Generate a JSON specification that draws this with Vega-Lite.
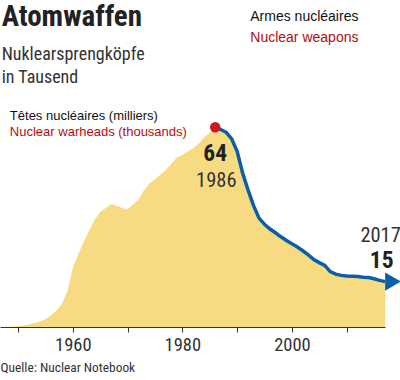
{
  "$schema": "https://vega.github.io/schema/vega-lite/v6.json",
  "width": 385,
  "height": 327,
  "autosize": {"type": "none"},
  "padding": {"left": 0, "top": 0, "right": 15, "bottom": 53},
  "config": {
    "view": {"stroke": null},
    "text": {"font": "Liberation Sans"}
  },
  "datasets": {
    "warheads": [
      {"year": 1945, "thousands": 0.0},
      {"year": 1946, "thousands": 0.01},
      {"year": 1947, "thousands": 0.02},
      {"year": 1948, "thousands": 0.05},
      {"year": 1949, "thousands": 0.17},
      {"year": 1950, "thousands": 0.3},
      {"year": 1951, "thousands": 0.45},
      {"year": 1952, "thousands": 0.8},
      {"year": 1953, "thousands": 1.3},
      {"year": 1954, "thousands": 1.8},
      {"year": 1955, "thousands": 2.5},
      {"year": 1956, "thousands": 3.8},
      {"year": 1957, "thousands": 5.2},
      {"year": 1958, "thousands": 7.5},
      {"year": 1959, "thousands": 11.5},
      {"year": 1960, "thousands": 19},
      {"year": 1961, "thousands": 23.5},
      {"year": 1962, "thousands": 27.5},
      {"year": 1963, "thousands": 31},
      {"year": 1964, "thousands": 34.5},
      {"year": 1965, "thousands": 37},
      {"year": 1966, "thousands": 38.3},
      {"year": 1967, "thousands": 39.5},
      {"year": 1968, "thousands": 39.0},
      {"year": 1969, "thousands": 38.3},
      {"year": 1970, "thousands": 37.8},
      {"year": 1971, "thousands": 39.5},
      {"year": 1972, "thousands": 41},
      {"year": 1973, "thousands": 44},
      {"year": 1974, "thousands": 46.2},
      {"year": 1975, "thousands": 47.5},
      {"year": 1976, "thousands": 49},
      {"year": 1977, "thousands": 50.5},
      {"year": 1978, "thousands": 52.5},
      {"year": 1979, "thousands": 54.5},
      {"year": 1980, "thousands": 55.3},
      {"year": 1981, "thousands": 56.5},
      {"year": 1982, "thousands": 57.5},
      {"year": 1983, "thousands": 59},
      {"year": 1984, "thousands": 61},
      {"year": 1985, "thousands": 62.5},
      {"year": 1986, "thousands": 64.2},
      {"year": 1987, "thousands": 63.5},
      {"year": 1988, "thousands": 62.6},
      {"year": 1989, "thousands": 60.5},
      {"year": 1990, "thousands": 56.5},
      {"year": 1991, "thousands": 49.5},
      {"year": 1992, "thousands": 44},
      {"year": 1993, "thousands": 39},
      {"year": 1994, "thousands": 35},
      {"year": 1995, "thousands": 33},
      {"year": 1996, "thousands": 31.5},
      {"year": 1997, "thousands": 30.3},
      {"year": 1998, "thousands": 29},
      {"year": 1999, "thousands": 27.8},
      {"year": 2000, "thousands": 26.8},
      {"year": 2001, "thousands": 25.7},
      {"year": 2002, "thousands": 24.5},
      {"year": 2003, "thousands": 23.2},
      {"year": 2004, "thousands": 21.7},
      {"year": 2005, "thousands": 20.7},
      {"year": 2006, "thousands": 19.8},
      {"year": 2007, "thousands": 17.8},
      {"year": 2008, "thousands": 17},
      {"year": 2009, "thousands": 16.6},
      {"year": 2010, "thousands": 16.4},
      {"year": 2011, "thousands": 16.3},
      {"year": 2012, "thousands": 16.2},
      {"year": 2013, "thousands": 16},
      {"year": 2014, "thousands": 15.9},
      {"year": 2015, "thousands": 15.5},
      {"year": 2016, "thousands": 15},
      {"year": 2017, "thousands": 14.6}
    ]
  },
  "layer": [
    {
      "data": {"name": "warheads"},
      "mark": {"type": "area", "color": "#f6db83"},
      "encoding": {
        "x": {
          "field": "year",
          "type": "quantitative",
          "scale": {"domain": [1946.7, 2017], "nice": false, "zero": false},
          "axis": {
            "values": [1950, 1960, 1970, 1980, 1990, 2000, 2010],
            "format": "d",
            "labelExpr": "datum.value % 20 == 0 ? datum.label : ''",
            "grid": false,
            "domainColor": "#333333",
            "tickColor": "#333333",
            "tickSize": 5,
            "labelPadding": 3,
            "labelFont": "Roboto Condensed, Liberation Sans Narrow, DejaVu Sans Condensed, Roboto",
            "labelFontSize": 18.5,
            "labelColor": "#333333",
            "title": "Quelle: Nuclear Notebook",
            "titleFont": "Roboto Condensed, Liberation Sans Narrow, DejaVu Sans Condensed, Roboto",
            "titleFontSize": 13.4,
            "titleFontWeight": "normal",
            "titleColor": "#333333",
            "titleAnchor": "start",
            "titleAlign": "left",
            "titlePadding": 7
          }
        },
        "y": {
          "field": "thousands",
          "type": "quantitative",
          "scale": {"domain": [0, 105.14], "nice": false},
          "axis": null
        }
      }
    },
    {
      "data": {"name": "warheads"},
      "transform": [{"filter": "datum.year >= 1986"}],
      "mark": {"type": "line", "color": "#0b5ea8", "strokeWidth": 3.5},
      "encoding": {
        "x": {"field": "year", "type": "quantitative"},
        "y": {"field": "thousands", "type": "quantitative"}
      }
    },
    {
      "data": {"name": "warheads"},
      "transform": [{"filter": "datum.year == 2017"}],
      "mark": {"type": "point", "shape": "triangle-right", "filled": true, "opacity": 1, "color": "#0b5ea8", "size": 330, "xOffset": 8},
      "encoding": {
        "x": {"field": "year", "type": "quantitative"},
        "y": {"field": "thousands", "type": "quantitative"}
      }
    },
    {
      "data": {"name": "warheads"},
      "transform": [{"filter": "datum.year == 1986"}],
      "mark": {"type": "circle", "color": "#cc1a1f", "opacity": 1, "size": 110},
      "encoding": {
        "x": {"field": "year", "type": "quantitative"},
        "y": {"field": "thousands", "type": "quantitative"}
      }
    },
    {
      "data": {"values": [{"label": "Atomwaffen"}]},
      "mark": {"type": "text", "align": "left", "baseline": "alphabetic", "font": "Roboto Condensed, Liberation Sans Narrow, DejaVu Sans Condensed, Roboto", "fontWeight": "bold", "fontSize": 29, "color": "#222222"},
      "encoding": {"text": {"field": "label"}, "x": {"datum": 1947.0}, "y": {"datum": 96.8}}
    },
    {
      "data": {"values": [{"label": "Nuklearsprengköpfe"}]},
      "mark": {"type": "text", "align": "left", "baseline": "alphabetic", "font": "Roboto Condensed, Liberation Sans Narrow, DejaVu Sans Condensed, Roboto", "fontSize": 18, "color": "#333333"},
      "encoding": {"text": {"field": "label"}, "x": {"datum": 1947.0}, "y": {"datum": 86.0}}
    },
    {
      "data": {"values": [{"label": "in Tausend"}]},
      "mark": {"type": "text", "align": "left", "baseline": "alphabetic", "font": "Roboto Condensed, Liberation Sans Narrow, DejaVu Sans Condensed, Roboto", "fontSize": 18, "color": "#333333"},
      "encoding": {"text": {"field": "label"}, "x": {"datum": 1947.0}, "y": {"datum": 78.5}}
    },
    {
      "data": {"values": [{"label": "64"}]},
      "mark": {"type": "text", "align": "center", "baseline": "alphabetic", "font": "Roboto Condensed, Liberation Sans Narrow, DejaVu Sans Condensed, Roboto", "fontWeight": "bold", "fontSize": 23.5, "color": "#222222"},
      "encoding": {"text": {"field": "label"}, "x": {"datum": 1986.0}, "y": {"datum": 53.3}}
    },
    {
      "data": {"values": [{"label": "1986"}]},
      "mark": {"type": "text", "align": "center", "baseline": "alphabetic", "font": "Roboto Condensed, Liberation Sans Narrow, DejaVu Sans Condensed, Roboto", "fontSize": 20.5, "color": "#333333"},
      "encoding": {"text": {"field": "label"}, "x": {"datum": 1986.2}, "y": {"datum": 45}}
    },
    {
      "data": {"values": [{"label": "2017"}]},
      "mark": {"type": "text", "align": "center", "baseline": "alphabetic", "font": "Roboto Condensed, Liberation Sans Narrow, DejaVu Sans Condensed, Roboto", "fontSize": 20.5, "color": "#333333"},
      "encoding": {"text": {"field": "label"}, "x": {"datum": 2016.2}, "y": {"datum": 27.3}}
    },
    {
      "data": {"values": [{"label": "15"}]},
      "mark": {"type": "text", "align": "center", "baseline": "alphabetic", "font": "Roboto Condensed, Liberation Sans Narrow, DejaVu Sans Condensed, Roboto", "fontWeight": "bold", "fontSize": 23.5, "color": "#222222"},
      "encoding": {"text": {"field": "label"}, "x": {"datum": 2016.4}, "y": {"datum": 19}}
    },
    {
      "data": {"values": [{"label": "Têtes nucléaires (milliers)"}]},
      "mark": {"type": "text", "align": "left", "baseline": "alphabetic", "fontSize": 13, "color": "#111111"},
      "encoding": {"text": {"field": "label"}, "x": {"datum": 1948.5}, "y": {"datum": 66.6}}
    },
    {
      "data": {"values": [{"label": "Nuclear warheads (thousands)"}]},
      "mark": {"type": "text", "align": "left", "baseline": "alphabetic", "fontSize": 13, "color": "#b20e12"},
      "encoding": {"text": {"field": "label"}, "x": {"datum": 1948.5}, "y": {"datum": 61.5}}
    },
    {
      "data": {"values": [{"label": "Armes nucléaires"}]},
      "mark": {"type": "text", "align": "left", "baseline": "alphabetic", "fontSize": 14, "color": "#111111"},
      "encoding": {"text": {"field": "label"}, "x": {"datum": 1992.4}, "y": {"datum": 98.5}}
    },
    {
      "data": {"values": [{"label": "Nuclear weapons"}]},
      "mark": {"type": "text", "align": "left", "baseline": "alphabetic", "fontSize": 14, "color": "#b20e12"},
      "encoding": {"text": {"field": "label"}, "x": {"datum": 1992.4}, "y": {"datum": 91.5}}
    }
  ]
}
